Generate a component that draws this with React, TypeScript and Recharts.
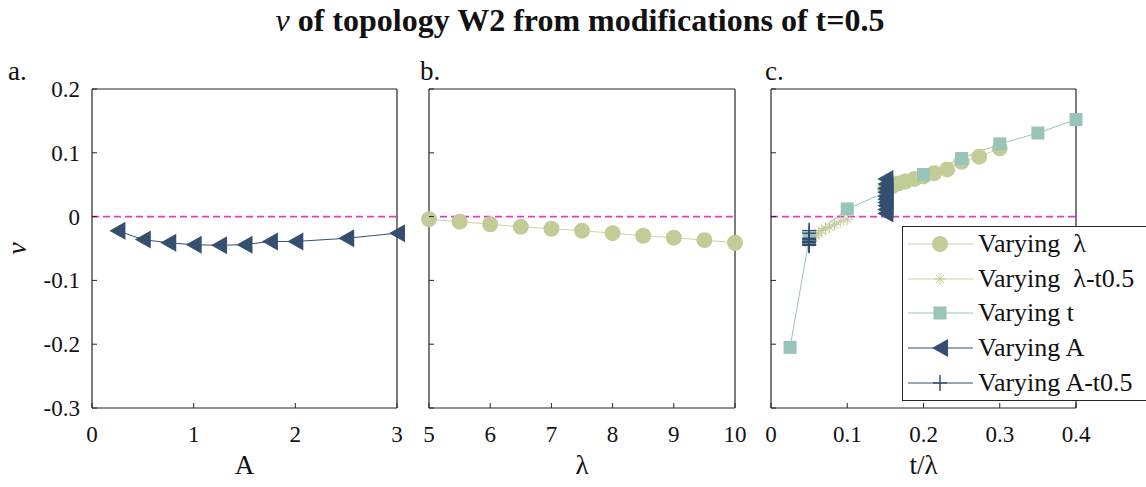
import { LineChart, Line, XAxis, YAxis, ReferenceLine, Legend, Label } from 'recharts';

// panel a: varying A (t = 0.5)
const A_VALUES = [0.25, 0.5, 0.75, 1, 1.25, 1.5, 1.75, 2, 2.5, 3];
const NU_A = [-0.022, -0.036, -0.041, -0.044, -0.045, -0.044, -0.039, -0.039, -0.034, -0.026];

// panel b: varying lambda (t = 0.5)
const LAMBDA_VALUES = [5, 5.5, 6, 6.5, 7, 7.5, 8, 8.5, 9, 9.5, 10];
const NU_LAMBDA = [-0.004, -0.008, -0.012, -0.016, -0.019, -0.022, -0.026, -0.03, -0.033, -0.037, -0.041];

// panel c: everything against t/lambda
const RATIO_LAMBDA = [0.3, 0.273, 0.25, 0.231, 0.214, 0.2, 0.188, 0.176, 0.167, 0.158, 0.15];
const NU_LAMBDA_C = [0.107, 0.094, 0.086, 0.074, 0.068, 0.063, 0.059, 0.055, 0.052, 0.047, 0.043];
const RATIO_LAMBDA_T05 = [0.1, 0.0909, 0.0833, 0.0769, 0.0714, 0.0667, 0.0625, 0.0588, 0.0556, 0.0526, 0.05];
const T_VALUES = [0.025, 0.05, 0.1, 0.15, 0.2, 0.25, 0.3, 0.35, 0.4];
const NU_T = [-0.205, -0.035, 0.012, 0.038, 0.066, 0.091, 0.114, 0.131, 0.152];
const RATIO_A = [0.15, 0.15, 0.15, 0.15, 0.15, 0.15, 0.15, 0.15, 0.15, 0.15];
const NU_A_C = [0.005, 0.011, 0.017, 0.022, 0.027, 0.032, 0.038, 0.044, 0.051, 0.059];
const RATIO_A_T05 = [0.05, 0.05, 0.05, 0.05, 0.05, 0.05, 0.05, 0.05, 0.05, 0.05];

const Y_TICKS = [-0.3, -0.2, -0.1, 0, 0.1, 0.2];
const A_TICKS = [0, 1, 2, 3];
const LAMBDA_TICKS = [5, 6, 7, 8, 9, 10];
const RATIO_TICKS = [0, 0.1, 0.2, 0.3, 0.4];

const W = 1146;
const H = 487;
const PLOT_TOP = 89;
const PLOT_BOTTOM = 408;
const LEFT_W = 90;
const BOTTOM_H = 72;
const EDGE = 2;
const TICK_LEN = 5;
const LEFT_GAP = 12;
const BOTTOM_GAP = 17;

const AXIS = '#262626';
const OLIVE = '#c2cc97';
const OLIVE_LINE = '#ccd4a8';
const TEAL = '#98c4b9';
const NAVY = '#344f70';
const MAGENTA = '#df3cc6';
const FONT = "'Liberation Serif', Tinos, 'Times New Roman', Times, 'Nimbus Roman', 'Nimbus Roman No9 L', FreeSerif, 'Noto Serif', 'DejaVu Serif', serif";

const toPoints = (xs: number[], ys: number[]) => xs.map((x, i) => ({ x, y: ys[i] }));
const fmt = (v: number) => (v === 0 ? '0' : String(Number(v.toFixed(2))));

type MarkerKind = 'circle' | 'star' | 'square' | 'triangle' | 'plus';

const Marker = ({ kind, cx, cy, color }: { kind: MarkerKind; cx: number; cy: number; color: string }) => {
    if (kind === 'circle') return <circle cx={cx} cy={cy} r={8} fill={color} />;
    if (kind === 'square') return <rect x={cx - 6.5} y={cy - 6.5} width={13} height={13} fill={color} />;
    if (kind === 'triangle')
        return <polygon points={`${cx - 8},${cy} ${cx + 8},${cy - 9} ${cx + 8},${cy + 9}`} fill={color} />;
    if (kind === 'plus')
        return (
            <g stroke={color} strokeWidth={1.5}>
                <line x1={cx - 7} x2={cx + 7} y1={cy} y2={cy} />
                <line x1={cx} x2={cx} y1={cy - 8} y2={cy + 8} />
            </g>
        );
    const r = 6;
    return (
        <g stroke={color} strokeWidth={1}>
            <line x1={cx - r} x2={cx + r} y1={cy} y2={cy} />
            <line x1={cx} x2={cx} y1={cy - r} y2={cy + r} />
            <line x1={cx - r * 0.7} x2={cx + r * 0.7} y1={cy - r * 0.7} y2={cy + r * 0.7} />
            <line x1={cx - r * 0.7} x2={cx + r * 0.7} y1={cy + r * 0.7} y2={cy - r * 0.7} />
        </g>
    );
};

const seriesC = [
    { name: 'Varying  λ', xs: RATIO_LAMBDA, ys: NU_LAMBDA_C, kind: 'circle' as MarkerKind, color: OLIVE, line: OLIVE_LINE },
    { name: 'Varying  λ-t0.5', xs: RATIO_LAMBDA_T05, ys: NU_LAMBDA, kind: 'star' as MarkerKind, color: OLIVE, line: OLIVE_LINE },
    { name: 'Varying t', xs: T_VALUES, ys: NU_T, kind: 'square' as MarkerKind, color: TEAL, line: TEAL },
    { name: 'Varying A', xs: RATIO_A, ys: NU_A_C, kind: 'triangle' as MarkerKind, color: NAVY, line: NAVY },
    { name: 'Varying A-t0.5', xs: RATIO_A_T05, ys: NU_A, kind: 'plus' as MarkerKind, color: NAVY, line: NAVY },
];

const tickText = { fontSize: 23, fill: '#111', style: { fontFamily: FONT } };

const LeftTick = (p: any) => (
    <g>
        <line x1={p.x + LEFT_GAP} x2={p.x + LEFT_GAP + TICK_LEN} y1={p.y} y2={p.y} stroke={AXIS} />
        {p.showLabel && (
            <text x={p.x} y={p.y} dy="0.35em" textAnchor="end" {...tickText}>
                {fmt(p.payload.value)}
            </text>
        )}
    </g>
);

const RightTick = (p: any) => (
    <line x1={p.x} x2={p.x - TICK_LEN} y1={p.y} y2={p.y} stroke={AXIS} />
);

const BottomTick = (p: any) => (
    <g>
        <line x1={p.x} x2={p.x} y1={p.y - BOTTOM_GAP} y2={p.y - BOTTOM_GAP - TICK_LEN} stroke={AXIS} />
        <text x={p.x} y={p.y} dy="0.75em" textAnchor="middle" {...tickText}>
            {fmt(p.payload.value)}
        </text>
    </g>
);

const TopTick = (p: any) => (
    <line x1={p.x} x2={p.x} y1={p.y} y2={p.y + TICK_LEN} stroke={AXIS} />
);

const LegendBox = () => (
    <div
        style={{
            width: 260,
            height: 173,
            border: `1px solid ${AXIS}`,
            background: '#fff',
            fontFamily: FONT,
            fontSize: 26,
            color: '#111',
        }}
    >
        {seriesC.map((s) => (
            <div key={s.name} style={{ height: 34.6, display: 'flex', alignItems: 'center' }}>
                <svg width={75} height={34} style={{ flex: 'none' }}>
                    <line x1={5} x2={70} y1={17} y2={17} stroke={s.line} strokeWidth={1} />
                    <Marker kind={s.kind} cx={37} cy={17} color={s.color} />
                </svg>
                <span style={{ whiteSpace: 'pre', lineHeight: 1 }}>{s.name}</span>
            </div>
        ))}
    </div>
);

interface PanelProps {
    left: number;
    right: number;
    domain: [number, number];
    ticks: number[];
    xLabel: string;
    showYLabels?: boolean;
    withLegend?: boolean;
    children: any;
}

const Panel = ({ left, right, domain, ticks, xLabel, showYLabels, withLegend, children }: PanelProps) => (
    <div style={{ position: 'absolute', left: 0, top: 0 }}>
        <LineChart
            width={W}
            height={H}
            margin={{ top: PLOT_TOP - EDGE, bottom: H - PLOT_BOTTOM - BOTTOM_H, left: left - LEFT_W, right: W - right - EDGE }}
        >
            <XAxis
                dataKey="x"
                type="number"
                domain={domain}
                ticks={ticks}
                interval={0}
                height={BOTTOM_H}
                tickSize={0}
                tickMargin={BOTTOM_GAP}
                tick={(p: any) => <BottomTick {...p} />}
                axisLine={{ stroke: AXIS, strokeWidth: 1.2 }}
            >
                <Label
                    value={xLabel}
                    position="insideBottom"
                    offset={6}
                    style={{ fontFamily: FONT, fontSize: 27, fill: '#111' }}
                />
            </XAxis>
            <XAxis
                xAxisId="top"
                orientation="top"
                dataKey="x"
                type="number"
                domain={domain}
                ticks={ticks}
                interval={0}
                height={EDGE}
                tickSize={0}
                tickMargin={0}
                tick={(p: any) => <TopTick {...p} />}
                axisLine={{ stroke: AXIS, strokeWidth: 1.2 }}
            />
            <YAxis
                type="number"
                domain={[-0.3, 0.2]}
                ticks={Y_TICKS}
                interval={0}
                width={LEFT_W}
                tickSize={0}
                tickMargin={LEFT_GAP}
                tick={(p: any) => <LeftTick {...p} showLabel={showYLabels} />}
                axisLine={{ stroke: AXIS, strokeWidth: 1.2 }}
            >
                {showYLabels && (
                    <Label
                        value="ν"
                        angle={-90}
                        position="insideLeft"
                        offset={14}
                        style={{ fontFamily: FONT, fontSize: 28, fontStyle: 'italic', fill: '#111', textAnchor: 'middle' }}
                    />
                )}
            </YAxis>
            <YAxis
                yAxisId="right"
                orientation="right"
                type="number"
                domain={[-0.3, 0.2]}
                ticks={Y_TICKS}
                interval={0}
                width={EDGE}
                tickSize={0}
                tickMargin={0}
                tick={(p: any) => <RightTick {...p} />}
                axisLine={{ stroke: AXIS, strokeWidth: 1.2 }}
            />
            {children}
            <ReferenceLine y={0} stroke={MAGENTA} strokeWidth={1.6} strokeDasharray="7 4" />
            {withLegend && (
                <Legend
                    layout="horizontal"
                    align="center"
                    verticalAlign="middle"
                    content={() => <LegendBox />}
                    wrapperStyle={{ left: 902, top: 226, width: 262, height: 175 }}
                />
            )}
        </LineChart>
    </div>
);

const series = (key: string, xs: number[], ys: number[], kind: MarkerKind, color: string, line: string) => (
    <Line
        key={key}
        data={toPoints(xs, ys)}
        dataKey="y"
        stroke={line}
        strokeWidth={1}
        isAnimationActive={false}
        dot={(p: any) => <Marker key={`${key}-${p.index}`} kind={kind} cx={p.cx} cy={p.cy} color={color} />}
        activeDot={false}
    />
);

const panelLetter = (text: string, left: number) => (
    <div style={{ position: 'absolute', left, top: 56, fontFamily: FONT, fontSize: 27, color: '#111' }}>{text}</div>
);

export default function App() {
    return (
        <div style={{ position: 'absolute', left: 0, top: 0, width: W, height: H, background: '#fff', overflow: 'hidden' }}>
            <style>{'body{margin:0;overflow:hidden}'}</style>
            <div
                style={{
                    position: 'absolute',
                    left: 0,
                    width: 1160,
                    top: 2,
                    textAlign: 'center',
                    fontFamily: FONT,
                    fontWeight: 'bold',
                    fontSize: 32,
                    color: '#111',
                }}
            >
                <span style={{ fontStyle: 'italic', fontWeight: 'normal' }}>ν</span> of topology W2 from modifications of t=0.5
            </div>
            {panelLetter('a.', 8)}
            {panelLetter('b.', 420)}
            {panelLetter('c.', 765)}

            <Panel left={92} right={397} domain={[0, 3]} ticks={A_TICKS} xLabel="A" showYLabels>
                {series('a', A_VALUES, NU_A, 'triangle', NAVY, NAVY)}
            </Panel>
            <Panel left={429} right={735} domain={[5, 10]} ticks={LAMBDA_TICKS} xLabel="λ">
                {series('b', LAMBDA_VALUES, NU_LAMBDA, 'circle', OLIVE, OLIVE_LINE)}
            </Panel>
            <Panel left={771} right={1076} domain={[0, 0.4]} ticks={RATIO_TICKS} xLabel="t/λ" withLegend>
                {seriesC.map((s, i) => series(`c${i}`, s.xs, s.ys, s.kind, s.color, s.line))}
            </Panel>
        </div>
    );
}
